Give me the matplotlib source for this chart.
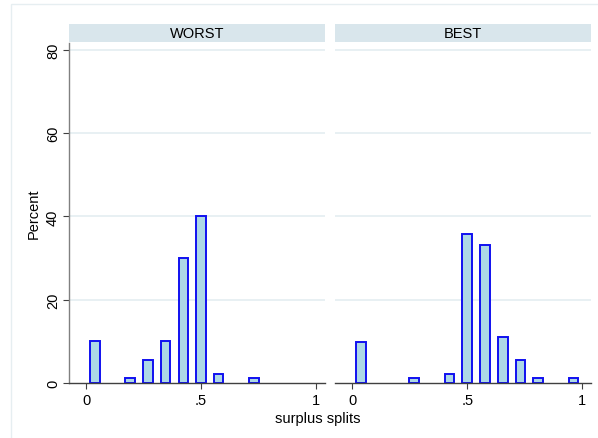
import matplotlib
matplotlib.use("Agg")
import matplotlib.pyplot as plt
from matplotlib.patches import Rectangle

plt.rcParams['font.family'] = ['Liberation Sans', 'DejaVu Sans']

# ---- data (bin centers and percents) ----
panels = ["WORST", "BEST"]
worst_x = [0.038, 0.192, 0.269, 0.346, 0.423, 0.500, 0.577, 0.731]
worst_pct = [10.0, 1.1, 5.6, 10.0, 30.0, 40.0, 2.2, 1.1]
best_x = [0.038, 0.269, 0.423, 0.500, 0.577, 0.654, 0.731, 0.808, 0.962]
best_pct = [9.9, 1.1, 2.2, 35.7, 33.2, 11.0, 5.5, 1.1, 1.1]
xticks = [0, 0.5, 1]
xticklabels = ["0", ".5", "1"]
yticks = [0, 20, 40, 60, 80]
yticklabels = ["0", "20", "40", "60", "80"]
xlabel = "surplus splits"
ylabel = "Percent"

W, H = 598, 439
fig = plt.figure(figsize=(W / 100, H / 100), dpi=100)
fig.patch.set_facecolor("white")

# faint outer frame
fig.add_artist(Rectangle((11 / W, -0.05), 1.1, (H - 4.5) / H + 0.05,
                         transform=fig.transFigure, fill=False,
                         edgecolor="#e6eef1", linewidth=1.0))

fill = "#add8e6"
edge = "#1010f0"
grid_c = "#e8f0f3"
fs = 10.5

lefts = [69, 335]
right_edges = [324.5, 591]
series = [(worst_x, worst_pct), (best_x, best_pct)]
ax_top, ax_bot = 44, 384

for i, (name, (xs, ys)) in enumerate(zip(panels, series)):
    l = lefts[i] / W
    w = (right_edges[i] - lefts[i]) / W
    ax = fig.add_axes([l, (H - ax_bot) / H, w, (ax_bot - ax_top) / H])
    ax.set_xlim(-0.075, 1.038)
    ax.set_ylim(0, 81.6)
    for y in yticks[1:]:
        ax.axhline(y, color=grid_c, linewidth=1.4, zorder=0)
    ax.bar(xs, ys, width=0.042, color=fill, edgecolor=edge, linewidth=1.4, zorder=2)
    for s in ["top", "right"]:
        ax.spines[s].set_visible(False)
    ax.spines["bottom"].set_color("#404040")
    ax.spines["bottom"].set_linewidth(1.0)
    ax.set_xticks(xticks)
    ax.set_xticklabels(xticklabels, fontsize=fs)
    ax.tick_params(axis="x", length=4.5, width=0.8, color="#404040", pad=3)
    if i == 0:
        ax.spines["left"].set_color("#808080")
        ax.spines["left"].set_linewidth(1.0)
        ax.set_yticks(yticks)
        ax.set_yticklabels(yticklabels, fontsize=fs, rotation=90, va="center")
        ax.tick_params(axis="y", length=4.5, width=0.8, color="#404040", pad=2)
        ax.set_ylabel(ylabel, fontsize=fs, labelpad=3.5)
    else:
        ax.spines["left"].set_visible(False)
        ax.set_yticks([])
    # strip
    sax = fig.add_axes([l, (H - 43.3) / H, w, 18.3 / H])
    sax.set_facecolor("#d9e6ec")
    sax.set_xticks([])
    sax.set_yticks([])
    for s in sax.spines.values():
        s.set_visible(False)
    sax.text(0.5, 0.5, name, ha="center", va="center", fontsize=fs,
             transform=sax.transAxes)

fig.text(318 / W, (H - 419) / H, xlabel, ha="center", va="center", fontsize=fs)

fig.savefig("out.png", dpi=100)
